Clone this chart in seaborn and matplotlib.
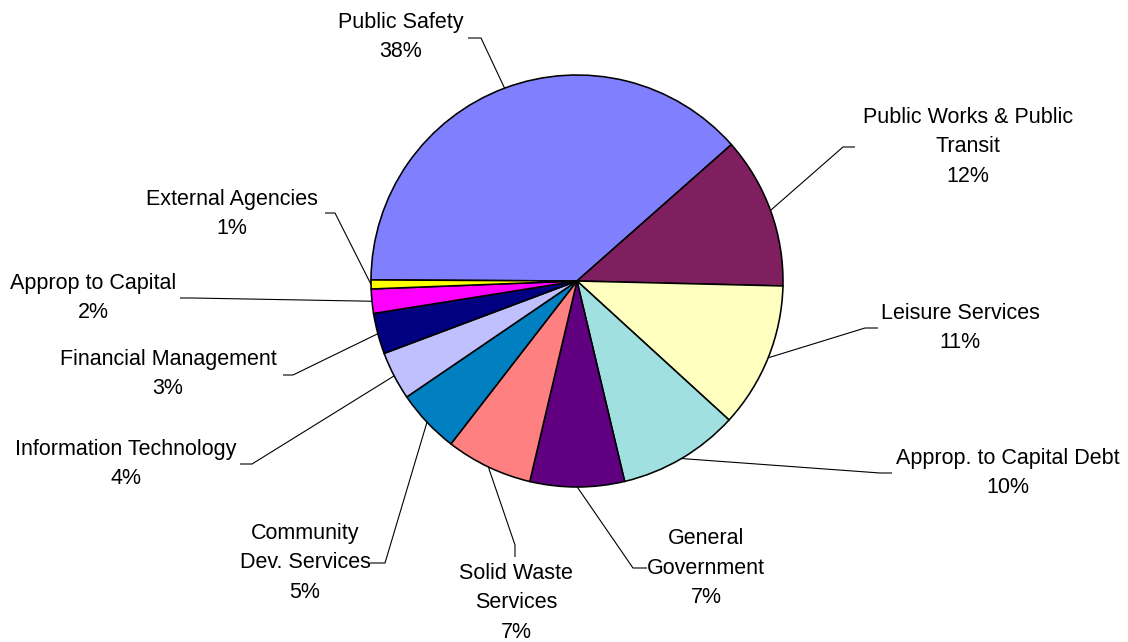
import numpy as np
import matplotlib
matplotlib.use("Agg")
import matplotlib.pyplot as plt
import seaborn as sns

# ---- data ----
categories = ["Public Safety", "Public Works & Public\nTransit", "Leisure Services",
              "Approp. to Capital Debt", "General\nGovernment", "Solid Waste\nServices",
              "Community\nDev. Services", "Information Technology", "Financial Management",
              "Approp to Capital", "External Agencies"]
values = [38.4, 11.9, 11.4, 9.5, 7.4, 6.8, 5.0, 3.8, 3.2, 1.9, 0.7]
pct_labels = ["38%", "12%", "11%", "10%", "7%", "7%", "5%", "4%", "3%", "2%", "1%"]
colors = ["#8080FF", "#7F1F5F", "#FFFFC0", "#A0E0E0", "#600080", "#FF8080",
          "#0080C0", "#C0C0FF", "#000080", "#FF00FF", "#FFFF00"]

# ---- layout (pixel coordinates, y downward) ----
W, H = 1128, 642
center_px = (577, 281)
radius_px = 206
text_pos = [(401, 37), (968, 147), (960, 328), (1008, 473), (706, 568), (516, 603),
            (305, 563), (126, 464), (168, 374), (93, 298), (232, 214)]
stub_end = [(468, 38), (855, 147), (878, 328), (892, 473), (647, 568), (515, 557),
            (370, 563), (240, 464), (283, 375), (180, 298), (325, 213)]
elbow = [(481, 38), (843, 147), (865, 328), (880, 473), (633, 568), (515, 545),
         (385, 563), (252, 464), (293, 375), (192, 298), (335, 213)]

sns.set_theme(style="white")
plt.rcParams['font.family'] = ['Liberation Sans', 'DejaVu Sans']

fig = plt.figure(figsize=(W / 100, H / 100), dpi=100)
ax = fig.add_axes([0, 0, 1, 1])

def Y(py):
    return H - py

palette = sns.color_palette(colors)
wedges, _ = ax.pie(values, colors=palette, startangle=179.7, counterclock=False,
                   center=(center_px[0], Y(center_px[1])), radius=radius_px,
                   wedgeprops=dict(edgecolor="black", linewidth=1.15), frame=True)

cx, cy = center_px[0], Y(center_px[1])
for i, w in enumerate(wedges):
    mid = np.deg2rad((w.theta1 + w.theta2) / 2)
    ex = cx + radius_px * np.cos(mid)
    ey = cy + radius_px * np.sin(mid)
    xs = [ex, elbow[i][0], stub_end[i][0]]
    ys = [ey, Y(elbow[i][1]), Y(stub_end[i][1])]
    ax.plot(xs, ys, color="black", linewidth=0.8, solid_capstyle="butt")
    ax.text(text_pos[i][0], Y(text_pos[i][1]), categories[i] + "\n" + pct_labels[i],
            ha="center", va="center", multialignment="center",
            fontsize=15.5, color="black", linespacing=1.52)

ax.set_xlim(0, W)
ax.set_ylim(0, H)
ax.set_aspect("equal")
ax.axis("off")
fig.savefig("out.png", dpi=100, facecolor="white")
